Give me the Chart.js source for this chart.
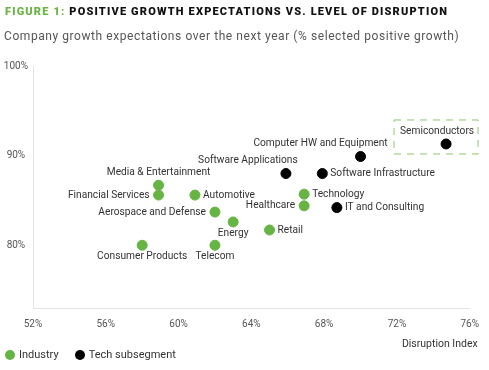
<!DOCTYPE html>
<html>
<head>
<meta charset="utf-8">
<script src="https://cdn.jsdelivr.net/npm/chart.js@4/dist/chart.umd.min.js"></script>
<style>
    body { margin: 0; background: #fff; font-family: Roboto, sans-serif; }
    #wrap { position: relative; width: 489px; height: 370px; }
    #chart { position: absolute; left: 0; top: 0; }
    .title { position: absolute; left: 5px; top: 5px; font-size: 11px; font-weight: 900; letter-spacing: 1.17px; color: #111; white-space: nowrap; }
    .title span { color: #6ab446; }
    .subtitle { position: absolute; left: 4px; top: 29px; font-size: 12px; letter-spacing: 0.57px; color: #555; white-space: nowrap; }
    #legend { position: absolute; left: 5px; top: 348px; font-size: 11px; color: #333; display: flex; }
    #legend .item { display: flex; align-items: center; margin-right: 16px; }
    #legend .dot { width: 10px; height: 10px; border-radius: 50%; margin-right: 4px; }
</style>
</head>
<body>
<div id="wrap">
    <canvas id="chart" width="489" height="370"></canvas>
    <div class="title"><span>FIGURE 1:</span> POSITIVE GROWTH EXPECTATIONS VS. LEVEL OF DISRUPTION</div>
    <div class="subtitle">Company growth expectations over the next year (% selected positive growth)</div>
    <div id="legend"></div>
</div>
<script>
// 數據
const industryNames = ['Media & Entertainment', 'Financial Services', 'Automotive', 'Aerospace and Defense', 'Energy',
    'Consumer Products', 'Telecom', 'Retail', 'Technology', 'Healthcare'];
const industryX = [58.9, 58.9, 60.9, 62.0, 63.0, 58.0, 62.0, 65.0, 66.9, 66.9];
const industryY = [86.7, 85.6, 85.6, 83.7, 82.6, 80.0, 80.0, 81.7, 85.7, 84.4];

const techNames = ['Software Applications', 'Software Infrastructure', 'Computer HW and Equipment', 'IT and Consulting', 'Semiconductors'];
const techX = [65.9, 67.9, 70.0, 68.7, 74.7];
const techY = [88.0, 88.0, 89.9, 84.2, 91.3];

const xTicks = [52, 56, 60, 64, 68, 72, 76];
const yTicks = [80, 90, 100];
const xTitle = 'Disruption Index';

const GREEN = '#66b444';
const BLACK = '#000000';

// 標籤位置 [方向, 水平偏移]
const labelPlacement = {
    'Media & Entertainment': ['top', 0],
    'Financial Services': ['left', 0],
    'Automotive': ['right', 0],
    'Aerospace and Defense': ['left', 0],
    'Energy': ['bottom', 0],
    'Consumer Products': ['bottom', 0],
    'Telecom': ['bottom', 0],
    'Retail': ['right', 0],
    'Technology': ['right', 0],
    'Healthcare': ['left', 0],
    'Software Applications': ['top', -38],
    'Software Infrastructure': ['right', 0],
    'Computer HW and Equipment': ['top', -40],
    'IT and Consulting': ['right', 0],
    'Semiconductors': ['top', -9]
};

const pointLabels = {
    id: 'pointLabels',
    afterDatasetsDraw(chart) {
        const ctx = chart.ctx;
        ctx.save();
        ctx.font = '10.2px Roboto';
        ctx.fillStyle = '#333';
        chart.data.datasets.forEach((ds, i) => {
            chart.getDatasetMeta(i).data.forEach((pt, j) => {
                const name = ds.names[j];
                const [pos, dx] = labelPlacement[name];
                let x = pt.x + dx, y = pt.y;
                ctx.textBaseline = 'middle';
                if (pos === 'top') { ctx.textAlign = 'center'; y -= 13; }
                else if (pos === 'bottom') { ctx.textAlign = 'center'; y += 11; }
                else if (pos === 'left') { ctx.textAlign = 'right'; x -= 9; }
                else { ctx.textAlign = 'left'; x += 8; }
                ctx.fillText(name, x, y);

                // 半導體的虛線框
                if (name === 'Semiconductors') {
                    ctx.strokeStyle = '#8cc56a';
                    ctx.lineWidth = 1;
                    ctx.setLineDash([7, 6]);
                    ctx.strokeRect(pt.x - 52, pt.y - 24, 84, 34);
                    ctx.setLineDash([]);
                }
            });
        });

        // x 軸標題，靠右
        const area = chart.chartArea;
        ctx.font = '10.5px Roboto';
        ctx.textAlign = 'right';
        ctx.textBaseline = 'middle';
        ctx.fillText(xTitle, area.right + 8, area.bottom + 36);
        ctx.restore();
    }
};

const chart = new Chart(document.getElementById('chart'), {
    type: 'scatter',
    data: {
        datasets: [{
            label: 'Industry',
            names: industryNames,
            data: industryX.map((x, i) => ({ x: x, y: industryY[i] })),
            backgroundColor: GREEN,
            borderColor: GREEN,
            pointRadius: 5,
            pointHoverRadius: 5
        }, {
            label: 'Tech subsegment',
            names: techNames,
            data: techX.map((x, i) => ({ x: x, y: techY[i] })),
            backgroundColor: BLACK,
            borderColor: BLACK,
            pointRadius: 5,
            pointHoverRadius: 5
        }]
    },
    options: {
        responsive: false,
        animation: false,
        layout: { padding: { top: 66, right: 17, bottom: 30, left: 0 } },
        plugins: {
            legend: { display: false },
            tooltip: { enabled: false }
        },
        scales: {
            x: {
                type: 'linear',
                min: 52,
                max: 76,
                afterBuildTicks: s => { s.ticks = xTicks.map(v => ({ value: v })); },
                grid: { display: false, drawTicks: false },
                border: { display: true, color: '#e4e4e4' },
                ticks: {
                    padding: 10,
                    color: '#555',
                    font: { family: 'Roboto', size: 10 },
                    callback: v => v + '%'
                }
            },
            y: {
                type: 'linear',
                min: 73,
                max: 100,
                afterBuildTicks: s => { s.ticks = yTicks.map(v => ({ value: v })); },
                afterFit: s => { s.width = 33; },
                grid: { display: false, drawTicks: false },
                border: { display: true, color: '#e4e4e4' },
                ticks: {
                    padding: 5,
                    crossAlign: 'center',
                    color: '#555',
                    font: { family: 'Roboto', size: 10 },
                    callback: v => v + '%'
                }
            }
        }
    },
    plugins: [pointLabels]
});

// 圖例
document.getElementById('legend').innerHTML = chart.data.datasets.map(ds => `
    <div class="item"><span class="dot" style="background:${ds.backgroundColor}"></span>${ds.label}</div>
`).join('');
</script>
</body>
</html>
